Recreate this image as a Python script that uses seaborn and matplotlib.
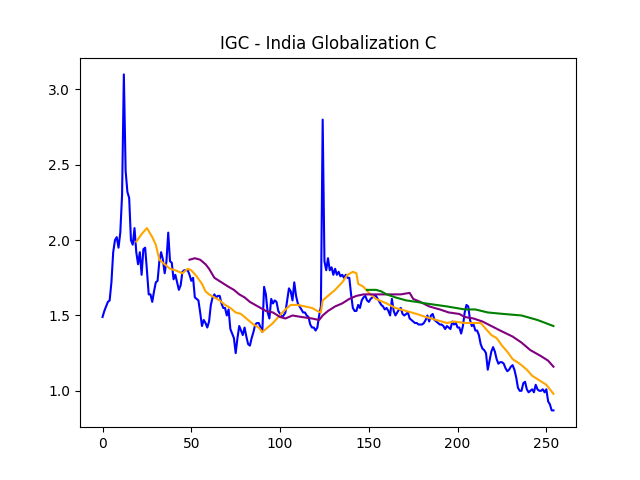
import numpy as np
import seaborn as sns
import matplotlib
matplotlib.use("Agg")
import matplotlib.pyplot as plt

# daily close (index 0..254)
close = [
    1.49, 1.53, 1.56, 1.59, 1.60, 1.72, 1.92, 2.00, 2.02, 1.95,
    2.05, 2.30, 3.10, 2.46, 2.32, 2.28, 2.00, 1.97, 2.08, 1.92,
    1.84, 1.92, 1.77, 1.94, 1.95, 1.80, 1.64, 1.64, 1.59, 1.66,
    1.72, 1.73, 1.86, 1.92, 1.87, 1.78, 1.86, 2.05, 1.86, 1.85,
    1.74, 1.77, 1.72, 1.67, 1.70, 1.79, 1.80, 1.80, 1.80, 1.77,
    1.73, 1.75, 1.62, 1.61, 1.60, 1.52, 1.43, 1.47, 1.45, 1.42,
    1.46, 1.57, 1.62, 1.64, 1.62, 1.63, 1.63, 1.58, 1.55, 1.55,
    1.50, 1.54, 1.41, 1.38, 1.35, 1.25, 1.35, 1.43, 1.40, 1.37,
    1.42, 1.36, 1.31, 1.30, 1.35, 1.39, 1.44, 1.45, 1.45, 1.42,
    1.39, 1.69, 1.64, 1.52, 1.48, 1.61, 1.58, 1.60, 1.59, 1.53,
    1.51, 1.49, 1.50, 1.52, 1.60, 1.68, 1.66, 1.60, 1.72, 1.63,
    1.58, 1.56, 1.54, 1.52, 1.52, 1.50, 1.49, 1.44, 1.42, 1.42,
    1.40, 1.42, 1.50, 1.56, 2.80, 1.86, 1.80, 1.88, 1.80, 1.82,
    1.77, 1.81, 1.77, 1.79, 1.76, 1.77, 1.75, 1.77, 1.75, 1.75,
    1.64, 1.55, 1.53, 1.53, 1.57, 1.55, 1.60, 1.62, 1.63, 1.60,
    1.59, 1.61, 1.62, 1.63, 1.63, 1.61, 1.59, 1.57, 1.56, 1.54,
    1.55, 1.53, 1.50, 1.61, 1.53, 1.50, 1.52, 1.54, 1.55, 1.51,
    1.50, 1.51, 1.52, 1.48, 1.47, 1.46, 1.45, 1.45, 1.44, 1.44,
    1.44, 1.45, 1.47, 1.50, 1.46, 1.50, 1.51, 1.47, 1.46, 1.45,
    1.44, 1.44, 1.43, 1.41, 1.43, 1.42, 1.41, 1.46, 1.44, 1.45,
    1.42, 1.42, 1.38, 1.43, 1.52, 1.57, 1.56, 1.47, 1.43, 1.44,
    1.40, 1.40, 1.37, 1.31, 1.28, 1.27, 1.25, 1.14, 1.20, 1.26,
    1.29, 1.26, 1.21, 1.18, 1.19, 1.19, 1.18, 1.15, 1.13, 1.14,
    1.16, 1.17, 1.14, 1.09, 1.02, 1.00, 1.00, 1.05, 1.06, 1.01,
    0.99, 1.00, 1.01, 0.99, 1.04, 1.01, 1.00, 1.00, 1.01, 0.99,
    1.01, 0.93, 0.91, 0.87, 0.87,
]

# moving averages at a coarser step
ma20_x = [19, 22, 25, 28, 30, 32, 35, 38, 41, 45, 48, 50, 53, 56, 58, 60,
          63, 66, 69, 72, 75, 78, 81, 85, 88, 90, 93, 96, 99, 103, 106, 110,
          114, 118, 121, 123, 124, 127, 131, 135, 138, 141, 143, 144, 147,
          150, 154, 160, 165, 171, 177, 182, 188, 194, 198, 204, 209, 213,
          216, 219, 222, 225, 228, 231, 235, 239, 242, 246, 250, 254]
ma20_y = [1.99, 2.04, 2.08, 2.02, 1.97, 1.87, 1.84, 1.81, 1.80, 1.78, 1.81,
          1.80, 1.76, 1.71, 1.66, 1.64, 1.62, 1.60, 1.57, 1.55, 1.52, 1.51,
          1.48, 1.44, 1.42, 1.39, 1.42, 1.45, 1.49, 1.54, 1.57, 1.57, 1.56,
          1.55, 1.53, 1.52, 1.60, 1.63, 1.67, 1.72, 1.77, 1.79, 1.78, 1.71,
          1.69, 1.65, 1.61, 1.58, 1.55, 1.53, 1.51, 1.49, 1.47, 1.45, 1.46,
          1.45, 1.45, 1.45, 1.41, 1.37, 1.35, 1.30, 1.26, 1.21, 1.18, 1.14,
          1.10, 1.07, 1.04, 0.98]

ma50_x = [49, 52, 55, 58, 60, 63, 67, 71, 74, 77, 80, 83, 86, 89, 92, 96,
          100, 103, 107, 112, 118, 122, 124, 127, 131, 135, 139, 143, 147,
          155, 163, 168, 173, 175, 179, 184, 190, 195, 201, 204, 209, 214,
          219, 224, 231, 236, 241, 247, 251, 254]
ma50_y = [1.87, 1.88, 1.87, 1.84, 1.81, 1.75, 1.72, 1.69, 1.67, 1.64, 1.62,
          1.59, 1.57, 1.55, 1.53, 1.52, 1.49, 1.48, 1.50, 1.49, 1.48, 1.47,
          1.50, 1.53, 1.56, 1.58, 1.61, 1.63, 1.64, 1.64, 1.64, 1.64, 1.65,
          1.61, 1.59, 1.56, 1.54, 1.52, 1.51, 1.49, 1.48, 1.46, 1.43, 1.40,
          1.36, 1.32, 1.27, 1.23, 1.20, 1.16]

ma150_x = [149, 154, 157, 160, 165, 171, 177, 182, 188, 194, 199, 204, 210,
           217, 226, 236, 245, 254]
ma150_y = [1.67, 1.67, 1.66, 1.64, 1.62, 1.60, 1.59, 1.58, 1.57, 1.56, 1.55,
           1.54, 1.54, 1.52, 1.51, 1.50, 1.47, 1.43]

fig, ax = plt.subplots(figsize=(6.4, 4.8), dpi=100)

sns.lineplot(x=np.arange(len(close)), y=close, color="blue", ax=ax)
sns.lineplot(x=ma20_x, y=ma20_y, color="orange", ax=ax)
sns.lineplot(x=ma50_x, y=ma50_y, color="purple", ax=ax)
sns.lineplot(x=ma150_x, y=ma150_y, color="green", ax=ax)

ax.set_title("IGC - India Globalization C")
ax.set_xlabel("")
ax.set_ylabel("")

plt.savefig("out.png")
